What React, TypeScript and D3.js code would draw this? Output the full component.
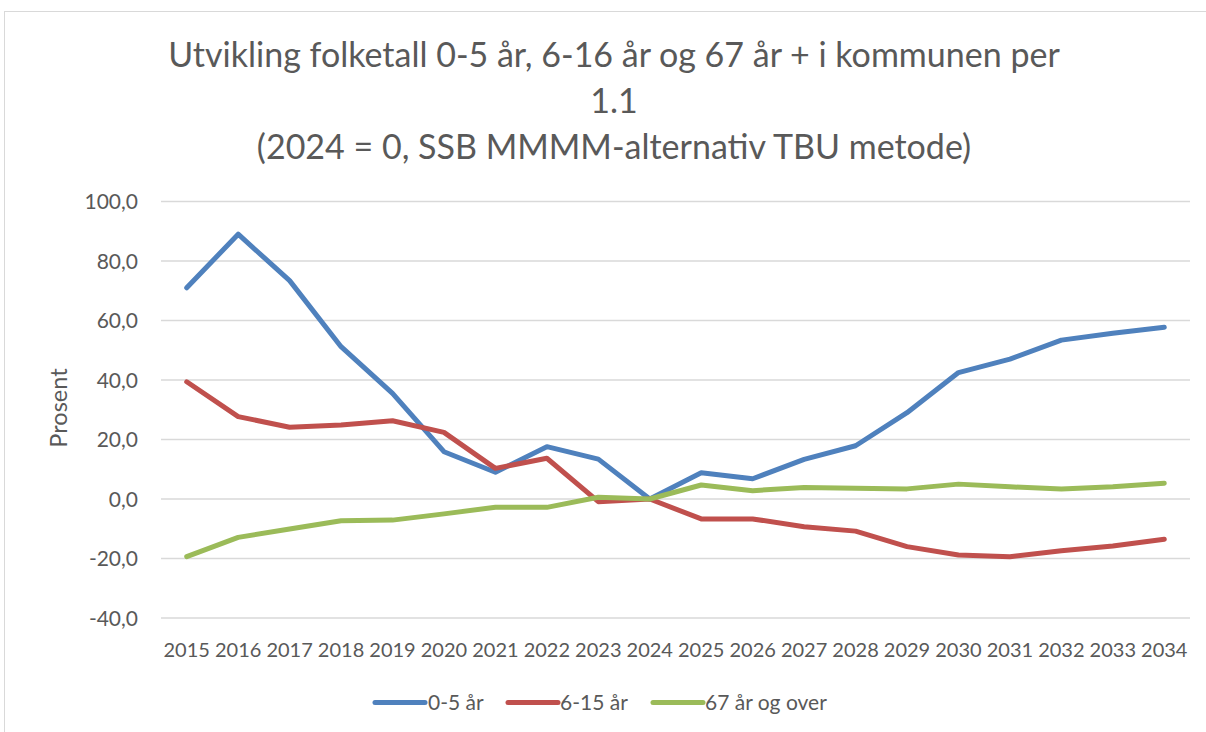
import React from "react";
import * as d3 from "d3";

const years = [2015, 2016, 2017, 2018, 2019, 2020, 2021, 2022, 2023, 2024, 2025, 2026, 2027, 2028, 2029, 2030, 2031, 2032, 2033, 2034];
const age0to5 = [71.0, 89.0, 73.4, 51.2, 35.5, 15.9, 9.0, 17.6, 13.4, 0.0, 8.8, 6.8, 13.3, 17.9, 29.0, 42.5, 47.0, 53.4, 55.7, 57.7];
const age6to15 = [39.4, 27.7, 24.1, 24.9, 26.3, 22.4, 10.3, 13.7, -0.9, 0.0, -6.7, -6.7, -9.3, -10.8, -16.0, -18.8, -19.4, -17.4, -15.8, -13.5];
const age67plus = [-19.4, -12.9, -10.1, -7.3, -7.1, -5.0, -2.8, -2.8, 0.6, 0.0, 4.7, 2.8, 3.9, 3.6, 3.4, 5.0, 4.1, 3.4, 4.1, 5.3];
const yTicks = [100, 80, 60, 40, 20, 0, -20, -40];
const seriesNames = ["0-5 år", "6-15 år", "67 år og over"];
const seriesColors = ["#4f81bd", "#c0504d", "#9bbb59"];
const titleLines = [
  "Utvikling folketall 0-5 år, 6-16 år og 67 år + i kommunen per",
  "1.1",
  "(2024 = 0, SSB MMMM-alternativ TBU metode)",
];
const yAxisTitle = "Prosent";

const W = 1206;
const H = 732;
const FONT = "Lato, 'Open Sans', sans-serif";
const TEXT = "#595959";

export default function App() {
  const x = d3.scaleBand<number>().domain(years).range([161, 1190]);
  const y = d3.scaleLinear().domain([-40, 100]).range([618, 201.5]);
  const cx = (yr: number) => (x(yr) as number) + x.bandwidth() / 2;
  const line = d3
    .line<number>()
    .x((_, i) => cx(years[i]))
    .y((v) => y(v));
  const series = [age0to5, age6to15, age67plus];
  const fmt = (v: number) => v.toFixed(1).replace(".", ",");

  const legendItems = [
    { lx: 375, tx: 428 },
    { lx: 508, tx: 560 },
    { lx: 653, tx: 705 },
  ];

  return (
    <svg
      width={W}
      height={H}
      style={{ position: "absolute", left: 0, top: 0, background: "#fff" }}
      fontFamily={FONT}
    >
      <rect x={0} y={0} width={W} height={H} fill="#fff" />
      <rect x={4.5} y={11.5} width={W + 20} height={H + 20} fill="none" stroke="#d9d9d9" strokeWidth={1} />
      {titleLines.map((t, i) => (
        <text key={i} x={614} y={67 + i * 46} textAnchor="middle" fontSize={34} fill={TEXT}>
          {t}
        </text>
      ))}
      {yTicks.map((t) => (
        <g key={t}>
          <line x1={161} x2={1190} y1={y(t)} y2={y(t)} stroke="#d9d9d9" strokeWidth={1.3} />
          <text x={138} y={y(t) + 7.5} textAnchor="end" fontSize={21} fill={TEXT}>
            {fmt(t)}
          </text>
        </g>
      ))}
      <text
        transform={`translate(67,408) rotate(-90)`}
        textAnchor="middle"
        fontSize={23.5}
        fill={TEXT}
      >
        {yAxisTitle}
      </text>
      {years.map((yr) => (
        <text key={yr} x={cx(yr)} y={657} textAnchor="middle" fontSize={20} fill={TEXT}>
          {yr}
        </text>
      ))}
      {series.map((s, i) => (
        <path
          key={i}
          d={line(s) as string}
          fill="none"
          stroke={seriesColors[i]}
          strokeWidth={5}
          strokeLinecap="round"
          strokeLinejoin="round"
        />
      ))}
      {seriesNames.map((n, i) => (
        <g key={n}>
          <line
            x1={legendItems[i].lx}
            x2={legendItems[i].lx + 50}
            y1={702.5}
            y2={702.5}
            stroke={seriesColors[i]}
            strokeWidth={5}
            strokeLinecap="round"
          />
          <text x={legendItems[i].tx} y={710} fontSize={21} fill={TEXT}>
            {n}
          </text>
        </g>
      ))}
    </svg>
  );
}
